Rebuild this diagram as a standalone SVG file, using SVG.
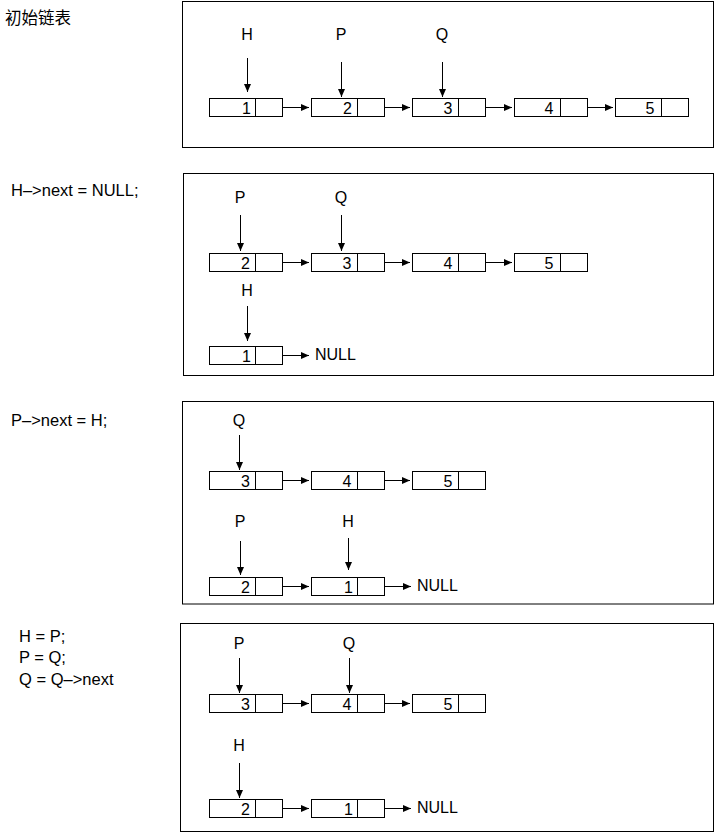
<svg xmlns="http://www.w3.org/2000/svg" width="715" height="833" viewBox="0 0 715 833">
<defs>
<marker id="arr" markerUnits="userSpaceOnUse" markerWidth="10" markerHeight="8" refX="8" refY="3.5" orient="auto">
<path d="M0,0 L8,3.5 L0,7 z" fill="#000"/>
</marker>
<style>
.frame{fill:none;stroke:#000;stroke-width:1}
.node rect{fill:#fff;stroke:#000;stroke-width:1}
.node line{stroke:#000;stroke-width:1}
.num{font-family:"Liberation Sans",Arial,sans-serif;font-size:16px;text-anchor:middle;fill:#000}
.ptr{font-family:"Liberation Sans",Arial,sans-serif;font-size:16px;text-anchor:middle;fill:#000}
.code{font-family:"Liberation Sans",Arial,"Noto Sans CJK SC",sans-serif;font-size:16.5px;fill:#000}
.null{font-family:"Liberation Sans",Arial,sans-serif;font-size:16px;fill:#000}
.conn line{stroke:#000;stroke-width:1;marker-end:url(#arr)}
</style>
</defs>
<rect width="715" height="833" fill="#fff"/>

<!-- captions -->
<g id="captions">
<text class="code" x="5" y="24">初始链表</text>
<text class="code" x="11" y="196">H–&gt;next = NULL;</text>
<text class="code" x="11" y="426">P–&gt;next = H;</text>
<text class="code" x="19" y="642">H = P;</text>
<text class="code" x="19" y="663">P = Q;</text>
<text class="code" x="19" y="685">Q = Q–&gt;next</text>
</g>

<!-- frames -->
<g id="frames">
<rect class="frame" x="182.5" y="1.5" width="531" height="146"/>
<rect class="frame" x="183.5" y="173.5" width="530" height="202"/>
<rect class="frame" x="182.5" y="401.5" width="531" height="202.5"/>
<rect class="frame" x="180.5" y="623.5" width="533" height="208"/>
</g>

<!-- Panel 1 -->
<g id="p1-n1" class="node"><rect x="209.5" y="98.5" width="73" height="18"/><line x1="255.5" y1="98.5" x2="255.5" y2="116.5"/><text class="num" x="246.5" y="113.5">1</text></g>
<g id="p1-n2" class="node"><rect x="311.5" y="98.5" width="73" height="18"/><line x1="357.5" y1="98.5" x2="357.5" y2="116.5"/><text class="num" x="347.5" y="113.5">2</text></g>
<g id="p1-n3" class="node"><rect x="412.5" y="98.5" width="73" height="18"/><line x1="458.5" y1="98.5" x2="458.5" y2="116.5"/><text class="num" x="448" y="113.5">3</text></g>
<g id="p1-n4" class="node"><rect x="514.5" y="98.5" width="73" height="18"/><line x1="560.5" y1="98.5" x2="560.5" y2="116.5"/><text class="num" x="549" y="113.5">4</text></g>
<g id="p1-n5" class="node"><rect x="615.5" y="98.5" width="73" height="18"/><line x1="661.5" y1="98.5" x2="661.5" y2="116.5"/><text class="num" x="650" y="113.5">5</text></g>
<g id="p1-H"><text class="ptr" x="247" y="40">H</text></g>
<g id="p1-P"><text class="ptr" x="341" y="40">P</text></g>
<g id="p1-Q"><text class="ptr" x="442" y="40">Q</text></g>

<!-- Panel 2 -->
<g id="p2-n2" class="node"><rect x="209.5" y="253.5" width="73" height="18"/><line x1="255.5" y1="253.5" x2="255.5" y2="271.5"/><text class="num" x="245.5" y="268.5">2</text></g>
<g id="p2-n3" class="node"><rect x="311.5" y="253.5" width="73" height="18"/><line x1="357.5" y1="253.5" x2="357.5" y2="271.5"/><text class="num" x="347" y="268.5">3</text></g>
<g id="p2-n4" class="node"><rect x="412.5" y="253.5" width="73" height="18"/><line x1="458.5" y1="253.5" x2="458.5" y2="271.5"/><text class="num" x="448" y="268.5">4</text></g>
<g id="p2-n5" class="node"><rect x="514.5" y="253.5" width="73" height="18"/><line x1="560.5" y1="253.5" x2="560.5" y2="271.5"/><text class="num" x="549" y="268.5">5</text></g>
<g id="p2-n1" class="node"><rect x="209.5" y="346.5" width="73" height="18"/><line x1="255.5" y1="346.5" x2="255.5" y2="364.5"/><text class="num" x="246.5" y="361.5">1</text></g>
<g id="p2-P"><text class="ptr" x="240" y="203">P</text></g>
<g id="p2-Q"><text class="ptr" x="341" y="203">Q</text></g>
<g id="p2-H"><text class="ptr" x="247" y="296">H</text></g>
<g id="p2-NULL"><text class="null" x="315" y="360">NULL</text></g>

<!-- Panel 3 -->
<g id="p3-n3" class="node"><rect x="209.5" y="471.5" width="73" height="18"/><line x1="255.5" y1="471.5" x2="255.5" y2="489.5"/><text class="num" x="245.5" y="486.5">3</text></g>
<g id="p3-n4" class="node"><rect x="311.5" y="471.5" width="73" height="18"/><line x1="357.5" y1="471.5" x2="357.5" y2="489.5"/><text class="num" x="347" y="486.5">4</text></g>
<g id="p3-n5" class="node"><rect x="412.5" y="471.5" width="73" height="18"/><line x1="458.5" y1="471.5" x2="458.5" y2="489.5"/><text class="num" x="448" y="486.5">5</text></g>
<g id="p3-n2" class="node"><rect x="209.5" y="577.5" width="73" height="18"/><line x1="255.5" y1="577.5" x2="255.5" y2="595.5"/><text class="num" x="245.5" y="592.5">2</text></g>
<g id="p3-n1" class="node"><rect x="311.5" y="577.5" width="73" height="18"/><line x1="357.5" y1="577.5" x2="357.5" y2="595.5"/><text class="num" x="348.5" y="592.5">1</text></g>
<g id="p3-Q"><text class="ptr" x="239" y="426">Q</text></g>
<g id="p3-P"><text class="ptr" x="240" y="527">P</text></g>
<g id="p3-H"><text class="ptr" x="348" y="527">H</text></g>
<g id="p3-NULL"><text class="null" x="417" y="591">NULL</text></g>

<!-- Panel 4 -->
<g id="p4-n3" class="node"><rect x="209.5" y="694.5" width="73" height="18"/><line x1="255.5" y1="694.5" x2="255.5" y2="712.5"/><text class="num" x="245.5" y="709.5">3</text></g>
<g id="p4-n4" class="node"><rect x="311.5" y="694.5" width="73" height="18"/><line x1="357.5" y1="694.5" x2="357.5" y2="712.5"/><text class="num" x="347" y="709.5">4</text></g>
<g id="p4-n5" class="node"><rect x="412.5" y="694.5" width="73" height="18"/><line x1="458.5" y1="694.5" x2="458.5" y2="712.5"/><text class="num" x="448" y="709.5">5</text></g>
<g id="p4-n2" class="node"><rect x="209.5" y="799.5" width="73" height="18"/><line x1="255.5" y1="799.5" x2="255.5" y2="817.5"/><text class="num" x="245.5" y="814.5">2</text></g>
<g id="p4-n1" class="node"><rect x="311.5" y="799.5" width="73" height="18"/><line x1="357.5" y1="799.5" x2="357.5" y2="817.5"/><text class="num" x="348.5" y="814.5">1</text></g>
<g id="p4-P"><text class="ptr" x="239" y="649">P</text></g>
<g id="p4-Q"><text class="ptr" x="349" y="649">Q</text></g>
<g id="p4-H"><text class="ptr" x="239" y="751">H</text></g>
<g id="p4-NULL"><text class="null" x="417" y="813">NULL</text></g>

<!-- connectors -->
<g id="connectors" class="conn">
<!-- panel 1 -->
<line x1="247.5" y1="58" x2="247.5" y2="92"/>
<line x1="341.5" y1="62" x2="341.5" y2="97"/>
<line x1="442.5" y1="62" x2="442.5" y2="97"/>
<line x1="282.5" y1="107.5" x2="309" y2="107.5"/>
<line x1="384.5" y1="107.5" x2="410" y2="107.5"/>
<line x1="485.5" y1="107.5" x2="512" y2="107.5"/>
<line x1="587.5" y1="107.5" x2="613" y2="107.5"/>
<!-- panel 2 -->
<line x1="240.5" y1="215" x2="240.5" y2="251"/>
<line x1="341.5" y1="215" x2="341.5" y2="251"/>
<line x1="247.5" y1="306" x2="247.5" y2="341"/>
<line x1="282.5" y1="262.5" x2="309" y2="262.5"/>
<line x1="384.5" y1="262.5" x2="410" y2="262.5"/>
<line x1="485.5" y1="262.5" x2="512" y2="262.5"/>
<line x1="282.5" y1="355.5" x2="309" y2="355.5"/>
<!-- panel 3 -->
<line x1="239.5" y1="435" x2="239.5" y2="470"/>
<line x1="282.5" y1="480.5" x2="309" y2="480.5"/>
<line x1="384.5" y1="480.5" x2="410" y2="480.5"/>
<line x1="240.5" y1="541" x2="240.5" y2="575"/>
<line x1="348.5" y1="538" x2="348.5" y2="570"/>
<line x1="282.5" y1="586.5" x2="309" y2="586.5"/>
<line x1="384.5" y1="586.5" x2="411" y2="586.5"/>
<!-- panel 4 -->
<line x1="239.5" y1="658" x2="239.5" y2="693"/>
<line x1="349.5" y1="658" x2="349.5" y2="693"/>
<line x1="282.5" y1="703.5" x2="309" y2="703.5"/>
<line x1="384.5" y1="703.5" x2="410" y2="703.5"/>
<line x1="239.5" y1="763" x2="239.5" y2="798"/>
<line x1="282.5" y1="808.5" x2="309" y2="808.5"/>
<line x1="384.5" y1="808.5" x2="411" y2="808.5"/>
</g>
</svg>
